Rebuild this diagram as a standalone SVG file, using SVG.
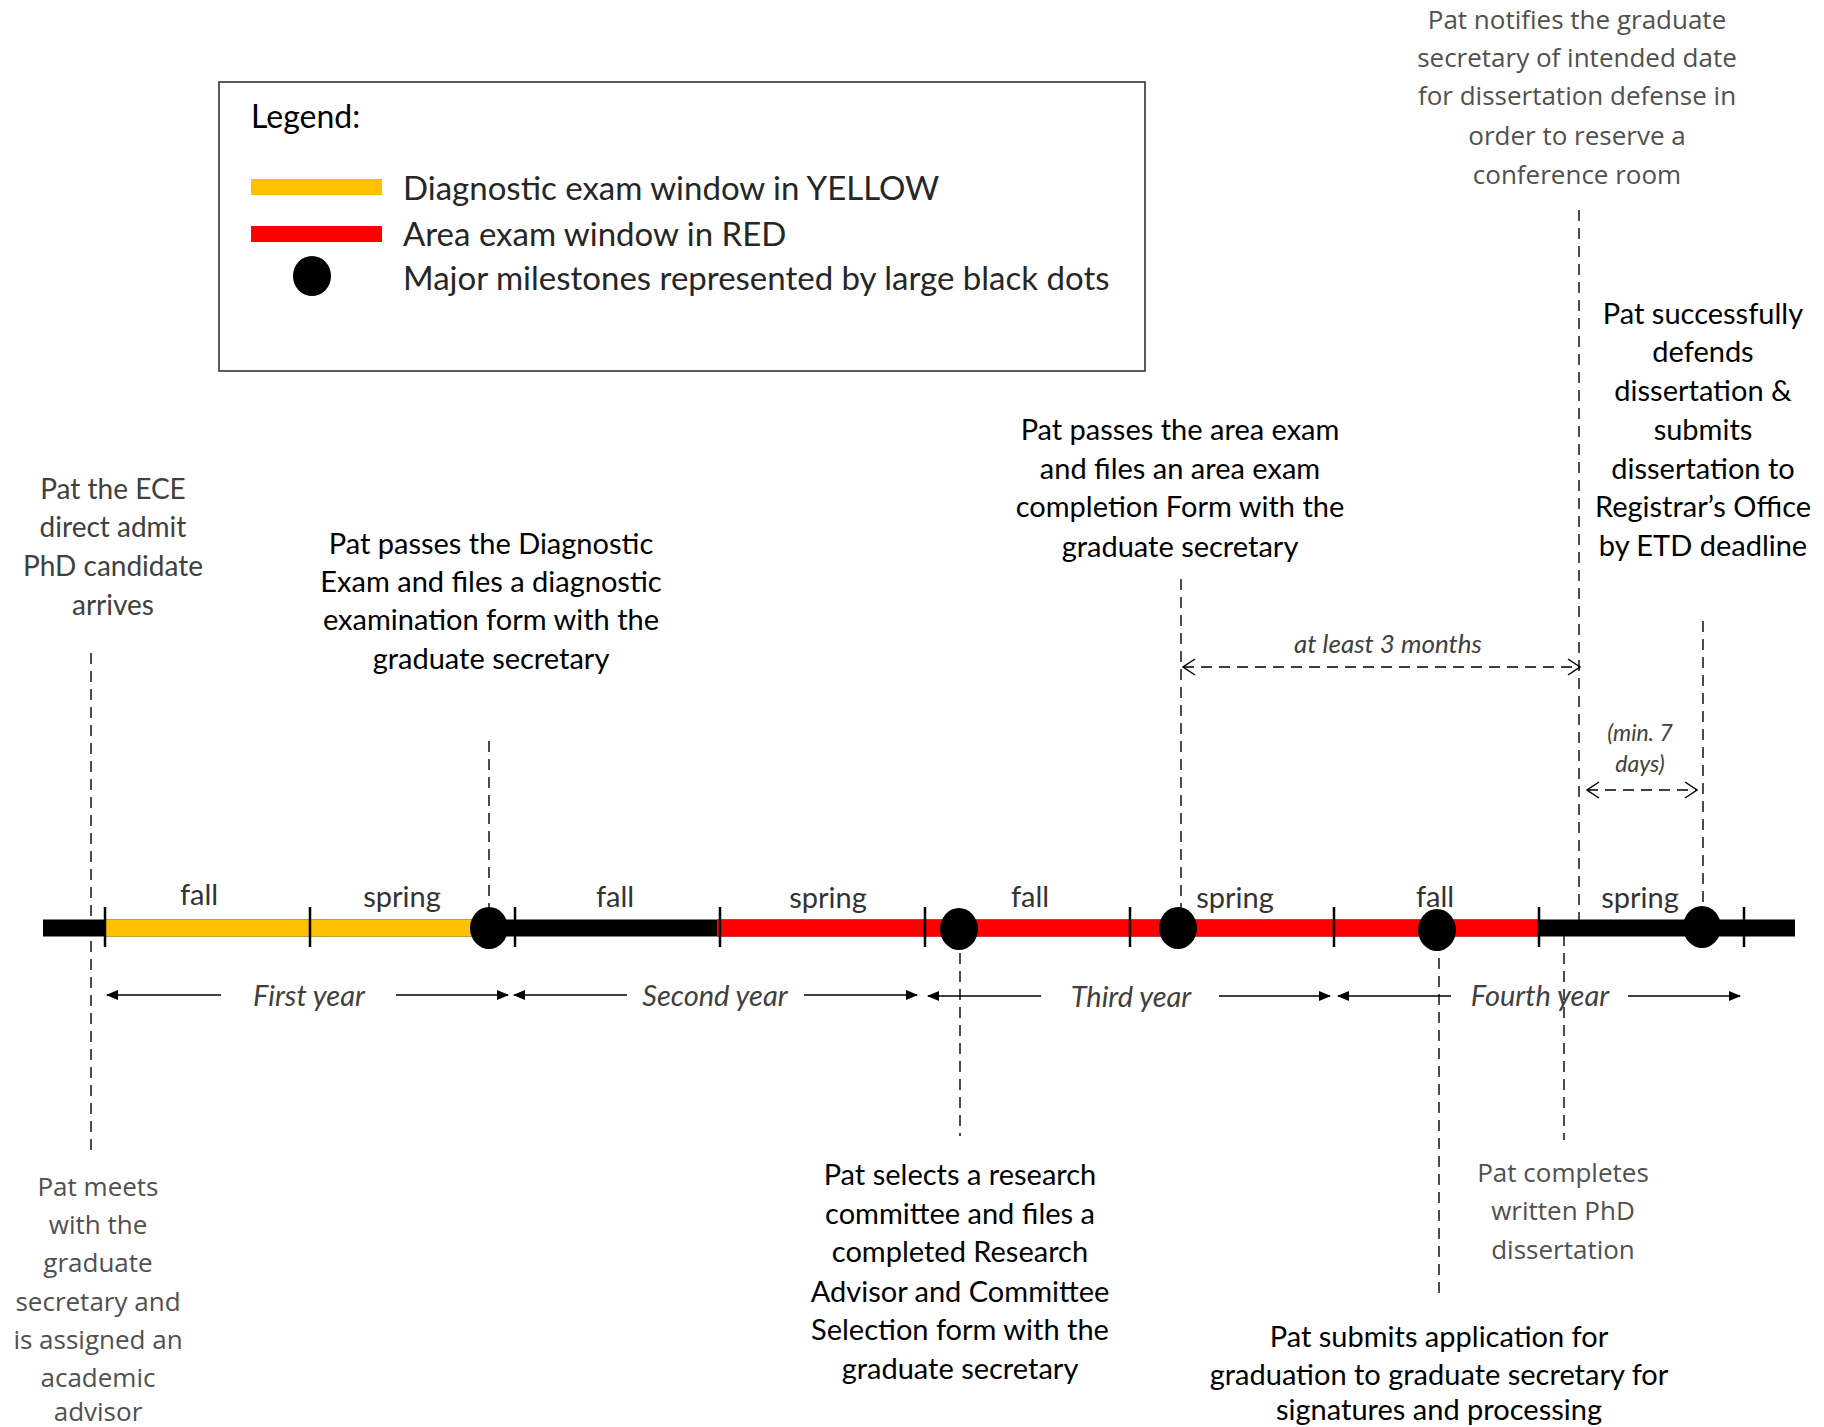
<svg xmlns="http://www.w3.org/2000/svg" width="1824" height="1427" viewBox="0 0 1824 1427">
<style>
.b{font-family:Lato,"Liberation Sans",sans-serif;font-size:29px;fill:#000;text-anchor:middle}
.g{font-family:"Open Sans","Liberation Sans",sans-serif;font-size:26px;fill:#505050;text-anchor:middle}
.gl{font-family:Lato,"Liberation Sans",sans-serif;font-size:28px;fill:#404040;text-anchor:middle}
.lg{font-family:Lato,"Liberation Sans",sans-serif;font-size:33px;fill:#262626}
.s{font-family:Lato,"Liberation Sans",sans-serif;font-size:29px;fill:#333;text-anchor:middle}
.y{font-family:Lato,"Liberation Sans",sans-serif;font-size:29px;font-style:italic;fill:#404040;text-anchor:middle}
.i{font-family:Lato,"Liberation Sans",sans-serif;font-style:italic;fill:#404040;text-anchor:middle}
.d{stroke:#000;stroke-width:1.4;stroke-dasharray:11 7;fill:none}
.a{stroke:#000;stroke-width:1.6;fill:none}
.tk{stroke:#000;stroke-width:2.5}
.dot{fill:#000}
</style>
<defs>
<marker id="fh" viewBox="0 0 12 10" refX="11" refY="5" markerWidth="12" markerHeight="10" markerUnits="userSpaceOnUse" orient="auto-start-reverse"><path d="M0,0 L12,5 L0,10 Z" fill="#000"/></marker>
<marker id="oh" viewBox="0 0 14 18" refX="13" refY="9" markerWidth="14" markerHeight="18" markerUnits="userSpaceOnUse" orient="auto-start-reverse"><path d="M1,1 L13,9 L1,17" fill="none" stroke="#000" stroke-width="1.5"/></marker>
</defs>
<rect width="1824" height="1427" fill="#fff"/>

<g id="legend">
<rect x="219" y="82" width="926" height="289" fill="#fff" stroke="#333" stroke-width="1.6"/>
<text class="lg" x="251" y="128" style="font-size:32px;fill:#000">Legend:</text>
<rect x="251" y="179" width="131" height="16" fill="#FFC000"/>
<text class="lg" x="403" y="200">Diagnostic exam window in YELLOW</text>
<rect x="251" y="226" width="131" height="16" fill="#FF0000"/>
<text class="lg" x="403" y="246">Area exam window in RED</text>
<ellipse cx="312" cy="276" rx="19" ry="20" class="dot"/>
<text class="lg" x="403" y="290">Major milestones represented by large black dots</text>
</g>

<g id="timeline">
<line x1="43" y1="928" x2="1795" y2="928" stroke="#000" stroke-width="17"/>
<line x1="105" y1="928" x2="489" y2="928" stroke="#FFC000" stroke-width="17"/>
<line x1="717" y1="928" x2="1539" y2="928" stroke="#FF0000" stroke-width="17"/>
<line class="tk" x1="105" y1="907" x2="105" y2="947"/>
<line class="tk" x1="310" y1="907" x2="310" y2="947"/>
<line class="tk" x1="515" y1="907" x2="515" y2="947"/>
<line class="tk" x1="720" y1="907" x2="720" y2="947"/>
<line class="tk" x1="925" y1="907" x2="925" y2="947"/>
<line class="tk" x1="1130" y1="907" x2="1130" y2="947"/>
<line class="tk" x1="1334" y1="907" x2="1334" y2="947"/>
<line class="tk" x1="1539" y1="907" x2="1539" y2="947"/>
<line class="tk" x1="1744" y1="907" x2="1744" y2="947"/>
<text class="s" x="199" y="905">fall</text>
<text class="s" x="402" y="907">spring</text>
<text class="s" x="615" y="907">fall</text>
<text class="s" x="828" y="908">spring</text>
<text class="s" x="1030" y="907">fall</text>
<text class="s" x="1235" y="908">spring</text>
<text class="s" x="1435" y="907">fall</text>
<text class="s" x="1640" y="908">spring</text>
<text class="y" x="309" y="1006">First year</text>
<text class="y" x="715" y="1006">Second year</text>
<text class="y" x="1131" y="1007">Third year</text>
<text class="y" x="1540" y="1006">Fourth year</text>
</g>

<g id="connectors">
<line class="a" x1="221" y1="995" x2="107" y2="995" marker-end="url(#fh)"/>
<line class="a" x1="396" y1="995" x2="508" y2="995" marker-end="url(#fh)"/>
<line class="a" x1="627" y1="995" x2="514" y2="995" marker-end="url(#fh)"/>
<line class="a" x1="804" y1="995" x2="917" y2="995" marker-end="url(#fh)"/>
<line class="a" x1="1041" y1="996" x2="928" y2="996" marker-end="url(#fh)"/>
<line class="a" x1="1219" y1="996" x2="1330" y2="996" marker-end="url(#fh)"/>
<line class="a" x1="1451" y1="996" x2="1338" y2="996" marker-end="url(#fh)"/>
<line class="a" x1="1628" y1="996" x2="1740" y2="996" marker-end="url(#fh)"/>
<line class="d" x1="91" y1="653" x2="91" y2="1154"/>
<line class="d" x1="489" y1="741" x2="489" y2="921"/>
<line class="d" x1="960" y1="935" x2="960" y2="1136"/>
<line class="d" x1="1181" y1="579" x2="1181" y2="921"/>
<line class="d" x1="1579" y1="210" x2="1579" y2="920"/>
<line class="d" x1="1564" y1="935" x2="1564" y2="1140"/>
<line class="d" x1="1703" y1="621" x2="1703" y2="915"/>
<line class="d" x1="1439" y1="940" x2="1439" y2="1294"/>
<line class="d" x1="1183" y1="667" x2="1580" y2="667" marker-start="url(#oh)" marker-end="url(#oh)"/>
<line class="d" x1="1587" y1="790" x2="1697" y2="790" stroke-dasharray="7 5" marker-start="url(#oh)" marker-end="url(#oh)"/>
<text class="i" x="1388" y="653" style="font-size:26px">at least 3 months</text>
<text class="i" x="1640" y="741" style="font-size:23px">(min. 7</text>
<text class="i" x="1640" y="772" style="font-size:23px">days)</text>
</g>

<g id="milestones">
<ellipse cx="489" cy="928" rx="19" ry="21" class="dot"/>
<ellipse cx="959" cy="929" rx="19" ry="21" class="dot"/>
<ellipse cx="1178" cy="928" rx="19" ry="21" class="dot"/>
<ellipse cx="1437" cy="930" rx="19" ry="21" class="dot"/>
<ellipse cx="1702" cy="927" rx="19" ry="21" class="dot"/>
</g>

<g id="n-arrives">
<text class="gl" x="113" y="499">Pat the ECE</text>
<text class="gl" x="113" y="537">direct admit</text>
<text class="gl" x="113" y="576">PhD candidate</text>
<text class="gl" x="113" y="615">arrives</text>
</g>

<g id="n-diagnostic">
<text class="b" x="491" y="554">Pat passes the Diagnostic</text>
<text class="b" x="491" y="592">Exam and files a diagnostic</text>
<text class="b" x="491" y="630">examination form with the</text>
<text class="b" x="491" y="669">graduate secretary</text>
</g>

<g id="n-area">
<text class="b" x="1180" y="440">Pat passes the area exam</text>
<text class="b" x="1180" y="479">and files an area exam</text>
<text class="b" x="1180" y="517">completion Form with the</text>
<text class="b" x="1180" y="557">graduate secretary</text>
</g>

<g id="n-notifies">
<text class="g" x="1577" y="29">Pat notifies the graduate</text>
<text class="g" x="1577" y="67">secretary of intended date</text>
<text class="g" x="1577" y="105">for dissertation defense in</text>
<text class="g" x="1577" y="145">order to reserve a</text>
<text class="g" x="1577" y="184">conference room</text>
</g>

<g id="n-defends">
<text class="b" x="1703" y="324">Pat successfully</text>
<text class="b" x="1703" y="362">defends</text>
<text class="b" x="1703" y="401">dissertation &amp;</text>
<text class="b" x="1703" y="440">submits</text>
<text class="b" x="1703" y="479">dissertation to</text>
<text class="b" x="1703" y="517">Registrar’s Office</text>
<text class="b" x="1703" y="556">by ETD deadline</text>
</g>

<g id="n-meets">
<text class="g" x="98" y="1196">Pat meets</text>
<text class="g" x="98" y="1234">with the</text>
<text class="g" x="98" y="1272">graduate</text>
<text class="g" x="98" y="1311">secretary and</text>
<text class="g" x="98" y="1349">is assigned an</text>
<text class="g" x="98" y="1387">academic</text>
<text class="g" x="98" y="1421">advisor</text>
</g>

<g id="n-committee">
<text class="b" x="960" y="1185">Pat selects a research</text>
<text class="b" x="960" y="1224">committee and files a</text>
<text class="b" x="960" y="1262">completed Research</text>
<text class="b" x="960" y="1302">Advisor and Committee</text>
<text class="b" x="960" y="1340">Selection form with the</text>
<text class="b" x="960" y="1379">graduate secretary</text>
</g>

<g id="n-completes">
<text class="g" x="1563" y="1182">Pat completes</text>
<text class="g" x="1563" y="1220">written PhD</text>
<text class="g" x="1563" y="1259">dissertation</text>
</g>

<g id="n-graduation">
<text class="b" x="1439" y="1347">Pat submits application for</text>
<text class="b" x="1439" y="1385">graduation to graduate secretary for</text>
<text class="b" x="1439" y="1420">signatures and processing</text>
</g>
</svg>
